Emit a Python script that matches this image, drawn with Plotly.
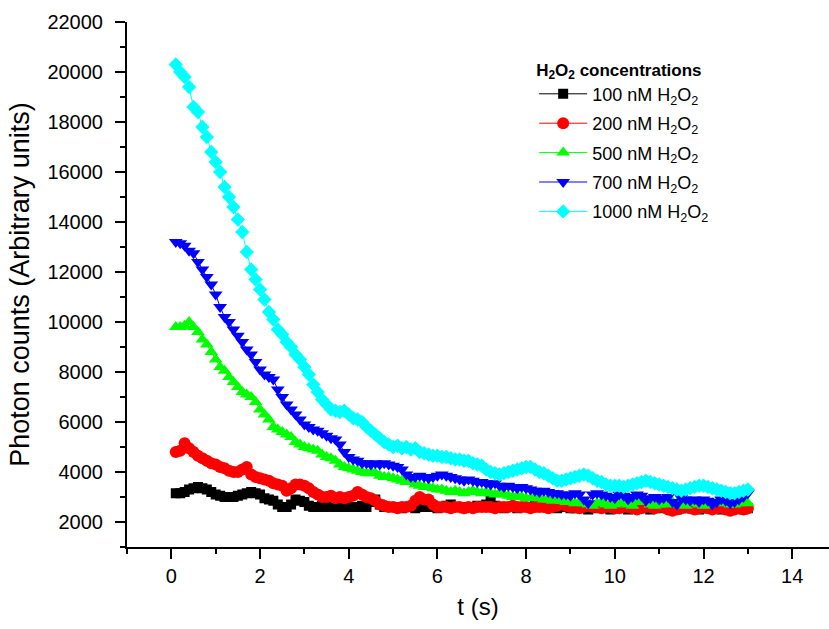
import numpy as np
import plotly.graph_objects as go

# Sampling time (s): 0.1 s steps from 0.1 to 13.0
t = np.round(np.arange(1, 131) * 0.1, 1)

c100 = [
    3150, 3150, 3200, 3300, 3350, 3400, 3350, 3300, 3200, 3100,
    3050, 3000, 3000, 3000, 3050, 3100, 3150, 3200, 3150, 3100,
    2950, 2900, 2850, 2700, 2600, 2600, 2700, 2900, 2850, 2800,
    2650, 2600, 2600, 2650, 2600, 2600, 2600, 2650, 2600, 2600,
    2600, 2600, 2650, 2600, 2800, 2900, 2700, 2600, 2600, 2600,
    2600, 2550, 2600, 2600, 2550, 2600, 2650, 2600, 2600, 2550,
    2600, 2650, 2700, 2600, 2600, 2550, 2600, 2600, 2650, 2600,
    2700, 2900, 2650, 2600, 2550, 2600, 2600, 2550, 2600, 2600,
    2600, 2650, 2600, 2750, 2800, 2600, 2550, 2600, 2600, 2550,
    2550, 2600, 2550, 2500, 2600, 2550, 2600, 2550, 2500, 2550,
    2600, 2550, 2500, 2550, 2600, 2600, 2550, 2500, 2550, 2600,
    2550, 2550, 2600, 2500, 2550, 2550, 2600, 2550, 2500, 2550,
    2550, 2600, 2550, 2500, 2550, 2600, 2550, 2550, 2500, 2550,
]

c200 = [
    4800, 4850, 5150, 4950, 4800, 4650, 4550, 4450, 4350, 4300,
    4200, 4150, 4050, 4000, 4000, 4100, 4200, 3900, 3800, 3750,
    3700, 3650, 3550, 3500, 3450, 3250, 3350, 3500, 3500, 3450,
    3350, 3200, 3100, 3000, 3000, 3050, 2950, 3000, 2950, 3000,
    3050, 3200, 3100, 3000, 2950, 2850, 2700, 2650, 2600, 2600,
    2550, 2600, 2600, 2650, 2850, 3000, 2900, 2900, 2700, 2600,
    2600, 2600, 2550, 2600, 2600, 2550, 2600, 2550, 2600, 2600,
    2600, 2600, 2550, 2600, 2600, 2600, 2650, 2600, 2600, 2600,
    2550, 2600, 2600, 2600, 2550, 2600, 2650, 2700, 2650, 2600,
    2600, 2550, 2600, 2650, 2600, 2600, 2550, 2600, 2600, 2550,
    2550, 2600, 2600, 2550, 2500, 2550, 2600, 2600, 2550, 2600,
    2600, 2500, 2450, 2500, 2550, 2600, 2550, 2500, 2550, 2600,
    2550, 2500, 2550, 2600, 2500, 2450, 2500, 2550, 2500, 2550,
]

c500 = [
    9800, 9800, 9850, 10000, 9800, 9600, 9300, 9100, 8800, 8500,
    8200, 8050, 7800, 7600, 7400, 7200, 7100, 7000, 6800, 6500,
    6300, 6100, 5800, 5700, 5600, 5500, 5400, 5200, 5100, 5000,
    4950, 4900, 4850, 4700, 4600, 4550, 4450, 4300, 4200, 4150,
    4100, 4050, 4000, 3950, 4000, 3950, 3850, 3800, 3800, 3750,
    3700, 3650, 3600, 3600, 3500, 3450, 3400, 3400, 3350, 3300,
    3300, 3250, 3200, 3250, 3200, 3150, 3200, 3250, 3200, 3150,
    3200, 3150, 3100, 3150, 3100, 3050, 3000, 3050, 3000, 2950,
    2950, 3000, 2950, 2900, 2900, 2850, 2900, 2850, 2800, 2800,
    2750, 2800, 2750, 2700, 2650, 2750, 2800, 2700, 2650, 2700,
    2750, 2800, 2700, 2650, 2800, 2900, 2800, 2700, 2650, 2700,
    2750, 2700, 2800, 2750, 2700, 2650, 2750, 2800, 2700, 2650,
    2700, 2750, 2800, 2850, 2750, 2700, 2700, 2750, 2800, 2750,
]

c700 = [
    13200, 13150, 13050, 12850, 12750, 12400, 12100, 11800, 11500, 11100,
    10600, 10200, 10000, 9700, 9450, 9200, 8900, 8700, 8400, 8100,
    7900, 7800, 7700, 7300, 7000, 6700, 6500, 6300, 6100, 5900,
    5800, 5700, 5650, 5550, 5450, 5350, 5300, 5100, 4800, 4600,
    4500, 4450, 4350, 4350, 4300, 4350, 4300, 4350, 4300, 4250,
    4200, 4100, 3900, 3800, 3800, 3850, 3800, 3750, 3800, 3850,
    3900, 3850, 3800, 3750, 3700, 3650, 3700, 3650, 3600, 3600,
    3550, 3500, 3550, 3450, 3400, 3450, 3400, 3350, 3400, 3350,
    3300, 3250, 3200, 3250, 3200, 3150, 3150, 3100, 3100, 3050,
    3150, 3100, 2900, 2750, 3100, 3150, 3100, 3050, 3000, 2950,
    3100, 3050, 2900, 3000, 3100, 3050, 2850, 2950, 3000, 2900,
    2950, 3000, 2800, 2700, 2950, 2900, 2850, 2900, 2800, 2900,
    2850, 2700, 2800, 2900, 2850, 2750, 2800, 2900, 3000, 3150,
]

c1000 = [
    20300, 20000, 19800, 19400, 18600, 18400, 17800, 17400, 16800, 16400,
    16000, 15400, 15000, 14600, 14100, 13600, 12800, 12100, 11700, 11300,
    10900, 10400, 10100, 9700, 9500, 9200, 9000, 8700, 8500, 8200,
    7900, 7500, 7200, 6900, 6700, 6500, 6450, 6400, 6450, 6300,
    6150, 6100, 6000, 5800, 5650, 5500, 5350, 5200, 5100, 5000,
    5050, 4950, 5000, 4900, 4950, 4800, 4750, 4700, 4650, 4650,
    4600, 4600, 4550, 4500, 4500, 4450, 4450, 4350, 4300, 4250,
    4100, 4000, 3950, 3900, 3950, 4000, 4050, 4100, 4150, 4200,
    4200, 4100, 4000, 3950, 3850, 3750, 3650, 3650, 3700, 3750,
    3800, 3850, 3900, 3850, 3750, 3650, 3600, 3500, 3450, 3450,
    3450, 3400, 3450, 3500, 3550, 3600, 3650, 3600, 3550, 3500,
    3450, 3400, 3350, 3300, 3250, 3300, 3350, 3400, 3450, 3450,
    3400, 3350, 3300, 3250, 3200, 3150, 3150, 3200, 3250, 3300,
]

series_names = [
    "100 nM H<sub>2</sub>O<sub>2</sub>",
    "200 nM H<sub>2</sub>O<sub>2</sub>",
    "500 nM H<sub>2</sub>O<sub>2</sub>",
    "700 nM H<sub>2</sub>O<sub>2</sub>",
    "1000 nM H<sub>2</sub>O<sub>2</sub>",
]
series_values = [c100, c200, c500, c700, c1000]
colors = ["#000000", "#FF0000", "#00FF00", "#0000FF", "#00FFFF"]
symbols = ["square", "circle", "triangle-up", "triangle-down", "diamond"]
sizes = [10, 12, 12, 12, 11]

FONT = "Arial, 'Liberation Sans', sans-serif"

fig = go.Figure()
for i, (name, vals, col, sym, sz) in enumerate(
    zip(series_names, series_values, colors, symbols, sizes)
):
    fig.add_trace(
        go.Scatter(
            x=t,
            y=vals,
            name=name,
            mode="lines+markers",
            line=dict(color=col, width=1),
            marker=dict(symbol=sym, size=sz, color=col, line=dict(width=0)),
            legendgroup=f"g{i}",
        )
    )

axis_common = dict(
    showline=True,
    linecolor="black",
    linewidth=2,
    showgrid=False,
    zeroline=False,
    ticks="outside",
    ticklen=10,
    tickwidth=2,
    tickcolor="black",
    tickfont=dict(family=FONT, size=20, color="black"),
    tickformat="d",
    mirror=False,
)

fig.update_layout(
    width=829,
    height=629,
    margin=dict(l=127, r=0, t=22, b=82),
    paper_bgcolor="white",
    plot_bgcolor="white",
    font=dict(family=FONT, color="black"),
    showlegend=True,
    legend=dict(
        x=0.58,
        y=0.94,
        xanchor="left",
        yanchor="top",
        bgcolor="rgba(0,0,0,0)",
        borderwidth=0,
        font=dict(family=FONT, size=18, color="black"),
        title=dict(
            text="<b>H<sub>2</sub>O<sub>2</sub> concentrations</b>",
            font=dict(family=FONT, size=17, color="black"),
        ),
        tracegroupgap=3,
        itemwidth=48,
    ),
    xaxis=dict(
        range=[-1, 14.83],
        dtick=2,
        tick0=0,
        minor=dict(ticks="outside", dtick=1, ticklen=5, tickwidth=2, tickcolor="black"),
        title=dict(text="t (s)", font=dict(family=FONT, size=24), standoff=12),
        **axis_common,
    ),
    yaxis=dict(
        range=[1000, 22000],
        dtick=2000,
        tick0=0,
        minor=dict(ticks="outside", dtick=1000, ticklen=5, tickwidth=2, tickcolor="black"),
        title=dict(text="Photon counts (Arbitrary units)", font=dict(family=FONT, size=27), standoff=10),
        ticklabelstandoff=8,
        **axis_common,
    ),
)

fig.write_html("out.html", config={"displayModeBar": False})
